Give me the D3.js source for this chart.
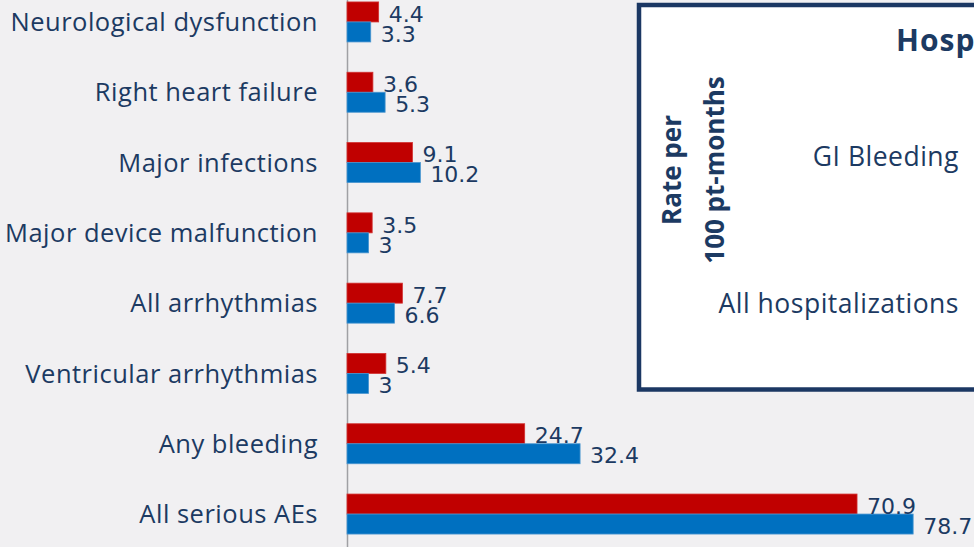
<!DOCTYPE html>
<html>
<head>
<meta charset="utf-8">
<script src="https://cdn.jsdelivr.net/npm/d3@7"></script>
<style>
  html, body { margin: 0; padding: 0; background: #f1f0f2; overflow: hidden; }
  svg { display: block; }
</style>
</head>
<body>
<svg id="chart" width="974" height="547"></svg>
<script>
// Adverse event categories, top to bottom
const categories = [
  "Neurological dysfunction",
  "Right heart failure",
  "Major infections",
  "Major device malfunction",
  "All arrhythmias",
  "Ventricular arrhythmias",
  "Any bleeding",
  "All serious AEs"
];
// Event rates for the two cohorts (upper red bar, lower blue bar)
const cohortRed  = [4.4, 3.6, 9.1, 3.5, 7.7, 5.4, 24.7, 70.9];
const cohortBlue = [3.3, 5.3, 10.2, 3, 6.6, 3, 32.4, 78.7];
const seriesKeys = ["red", "blue"];
const seriesColors = { red: "#c00000", blue: "#0070c0" };

// Inset panel text
const insetTitle = "Hospitalizations";
const insetAxisTitle = ["Rate per", "100 pt-months"];
const insetCategories = ["GI Bleeding", "All hospitalizations"];

const W = 974, H = 547;
const textColor = "#1c3a62";
const labelFont = "'Open Sans', 'Noto Sans', sans-serif";
const svg = d3.select("#chart");

svg.append("rect").attr("width", W).attr("height", H).attr("fill", "#f1f0f2");

const rows = categories.map((c, i) => ({ cat: c, red: cohortRed[i], blue: cohortBlue[i] }));

const y = d3.scaleBand()
  .domain(categories)
  .range([-13.2, 549.2])
  .paddingInner(0.431)
  .paddingOuter(0.2155);

const ySub = d3.scaleBand().domain(seriesKeys).range([0, y.bandwidth()]);

const x = d3.scaleLinear().domain([0, 80]).range([347, 922.5]);

// Category axis
const yAxis = d3.axisLeft(y).tickSize(0).tickPadding(29);
const gAxis = svg.append("g").attr("transform", `translate(${x(0)},0)`).call(yAxis);
gAxis.select(".domain").attr("stroke", "#a0a0a4").attr("stroke-width", 1.5);
gAxis.selectAll("text")
  .attr("fill", textColor)
  .attr("font-family", labelFont)
  .attr("font-size", 25.5)
  .attr("letter-spacing", 0.5)
  .attr("dy", "0.36em");

// Bars
const groups = svg.append("g").selectAll("g")
  .data(rows).join("g")
  .attr("transform", d => `translate(0,${y(d.cat)})`);

groups.selectAll("rect")
  .data(d => seriesKeys.map(k => ({ key: k, value: d[k] })))
  .join("rect")
  .attr("x", x(0))
  .attr("y", d => ySub(d.key))
  .attr("width", d => x(d.value) - x(0))
  .attr("height", ySub.bandwidth())
  .attr("fill", d => seriesColors[d.key])
  .attr("stroke", d => d.key === "blue" ? "#4a96d0" : "#d23030")
  .attr("stroke-width", 0.8);

// Value labels
groups.selectAll("text")
  .data(d => seriesKeys.map(k => ({ key: k, value: d[k] })))
  .join("text")
  .attr("x", d => x(d.value) + 10)
  .attr("y", d => ySub(d.key) + ySub.bandwidth() / 2)
  .attr("dy", "0.44em")
  .attr("fill", textColor)
  .attr("font-family", "'DejaVu Sans', Verdana, sans-serif")
  .attr("font-size", 22)
  .text(d => d.value);

// Inset panel
const inset = svg.append("g");
inset.append("rect")
  .attr("x", 639).attr("y", 5)
  .attr("width", 500).attr("height", 384.5)
  .attr("fill", "#ffffff")
  .attr("stroke", "#1b3763")
  .attr("stroke-width", 4.5);

inset.append("text")
  .attr("x", 896).attr("y", 51)
  .attr("fill", textColor)
  .attr("font-family", labelFont)
  .attr("font-weight", "bold")
  .attr("font-size", 30)
  .attr("letter-spacing", 1)
  .text(insetTitle);

inset.selectAll("text.axis-title")
  .data(insetAxisTitle)
  .join("text")
  .attr("class", "axis-title")
  .attr("transform", (d, i) => `translate(${681 + i * 43},170) rotate(-90)`)
  .attr("text-anchor", "middle")
  .attr("fill", textColor)
  .attr("font-family", labelFont)
  .attr("font-weight", "bold")
  .attr("font-size", 26)
  .text(d => d);

const insetY = d3.scalePoint().domain(insetCategories).range([156, 303]);
inset.selectAll("text.inset-cat")
  .data(insetCategories)
  .join("text")
  .attr("class", "inset-cat")
  .attr("x", 959)
  .attr("y", d => insetY(d))
  .attr("dy", "0.36em")
  .attr("text-anchor", "end")
  .attr("fill", textColor)
  .attr("font-family", labelFont)
  .attr("font-size", 26.5)
  .attr("letter-spacing", 0.5)
  .text(d => d);
</script>
</body>
</html>
